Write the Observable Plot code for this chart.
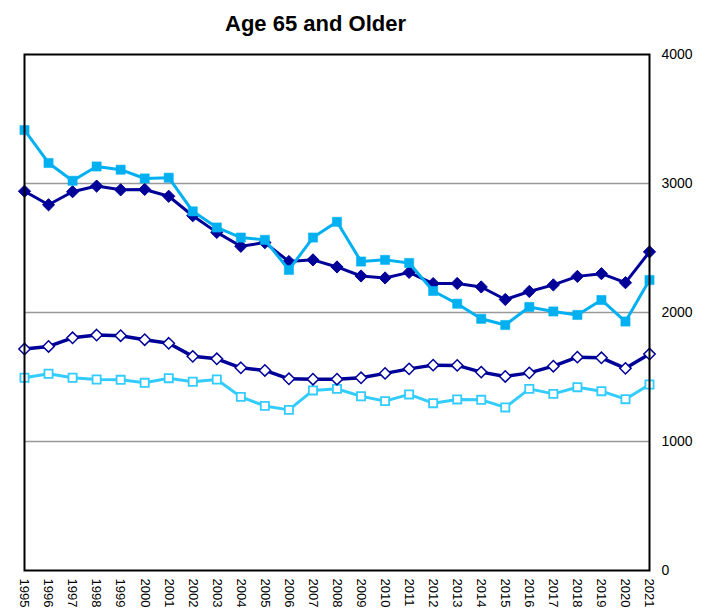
<!DOCTYPE html>
<html>
<head>
<meta charset="utf-8">
<script src="https://cdn.jsdelivr.net/npm/d3@7"></script>
<script src="https://cdn.jsdelivr.net/npm/@observablehq/plot@0.6"></script>
<style>
  html, body { margin: 0; padding: 0; background: #fff; }
  svg { display: block; }
</style>
</head>
<body>
<div id="chart"></div>
<script>
const title = "Age 65 and Older";
const years = [1995,1996,1997,1998,1999,2000,2001,2002,2003,2004,2005,2006,2007,2008,2009,2010,2011,2012,2013,2014,2015,2016,2017,2018,2019,2020,2021];
const yTicks = [0,1000,2000,3000,4000];
// dark navy, filled diamonds
const seriesDarkFilled = [2940,2835,2936,2980,2951,2954,2901,2750,2621,2513,2542,2395,2408,2353,2283,2268,2311,2224,2225,2198,2101,2163,2214,2280,2301,2231,2470];
// light blue, filled squares
const seriesLightFilled = [3414,3159,3021,3132,3107,3039,3045,2784,2659,2581,2563,2330,2581,2703,2395,2408,2384,2167,2068,1951,1903,2043,2008,1981,2097,1930,2252];
// dark navy, open diamonds
const seriesDarkOpen = [1717,1737,1804,1825,1820,1789,1761,1660,1641,1571,1551,1486,1483,1483,1494,1528,1563,1592,1590,1538,1504,1532,1584,1654,1649,1567,1678];
// light blue, open squares
const seriesLightOpen = [1494,1525,1494,1481,1478,1455,1491,1463,1481,1346,1276,1245,1396,1408,1351,1313,1365,1297,1326,1323,1264,1408,1369,1421,1390,1328,1442];

const toRows = (vals) => years.map((yr, i) => ({year: yr, value: vals[i]}));
const dA = toRows(seriesDarkFilled);
const dB = toRows(seriesLightFilled);
const dC = toRows(seriesDarkOpen);
const dD = toRows(seriesLightOpen);

const navy = "#000099";
const sky = "#00B0F0";
const skyLight = "#33CCFF";

const chart = Plot.plot({
  width: 707,
  height: 613,
  marginLeft: 24,
  marginRight: 58,
  marginTop: 54,
  marginBottom: 43,
  style: {fontFamily: "'Liberation Sans', Arial, sans-serif", fontSize: "14px", color: "#000", background: "#fff"},
  x: {type: "linear", domain: [1995, 2021], axis: null},
  y: {domain: [0, 4000], axis: null},
  marks: [
    Plot.ruleY([1000, 2000, 3000], {stroke: "#999999", strokeWidth: 1.5}),
    Plot.axisY({anchor: "right", ticks: yTicks, tickSize: 0, tickPadding: 12, fontSize: 14, tickFormat: d3.format("d"), label: null}),
    Plot.text(years, {x: d => d, text: d => String(d), frameAnchor: "bottom", rotate: 90, textAnchor: "start", lineAnchor: "middle", dy: 8, fontSize: 13, ariaLabel: "xlabels"}),
    Plot.text([title], {frameAnchor: "top-left", dx: 291, dy: -24, textAnchor: "middle", lineAnchor: "bottom", fontSize: 22, fontWeight: "bold"}),
    // lower series
    Plot.line(dD, {x: "year", y: "value", stroke: skyLight, strokeWidth: 3}),
    Plot.dot(dD, {x: "year", y: "value", symbol: "square", r: 4.6, fill: "white", stroke: skyLight, strokeWidth: 1.8}),
    Plot.line(dC, {x: "year", y: "value", stroke: navy, strokeWidth: 3.5}),
    Plot.dot(dC, {x: "year", y: "value", symbol: "diamond2", r: 5.1, fill: "white", stroke: navy, strokeWidth: 1.5}),
    // upper series
    Plot.line(dA, {x: "year", y: "value", stroke: navy, strokeWidth: 3}),
    Plot.dot(dA, {x: "year", y: "value", symbol: "diamond2", r: 5.5, fill: navy, stroke: navy, strokeWidth: 1}),
    Plot.line(dB, {x: "year", y: "value", stroke: sky, strokeWidth: 3}),
    Plot.dot(dB, {x: "year", y: "value", symbol: "square", r: 5.2, fill: sky, stroke: sky, strokeWidth: 0.5}),
    Plot.frame({stroke: "#000", strokeWidth: 2})
  ]
});

d3.select(chart).selectAll("g[aria-label='xlabels'] text").attr("letter-spacing", "1.5px");
document.getElementById("chart").appendChild(chart);
</script>
</body>
</html>
